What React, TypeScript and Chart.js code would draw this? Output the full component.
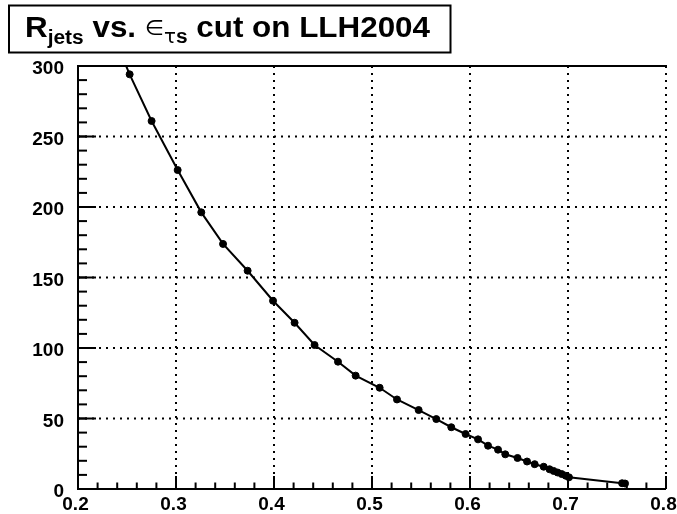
import { useEffect, useRef } from "react";
import { Chart, registerables } from "chart.js";

Chart.register(...registerables);

// epsilon_tau_s (x) values
const effValues = [
  0.231, 0.2527, 0.2751, 0.3017, 0.3258, 0.348, 0.3731, 0.399, 0.421, 0.4414,
  0.4653, 0.4833, 0.5078, 0.5255, 0.5476, 0.5656, 0.5809, 0.5955, 0.6082, 0.6184,
  0.6286, 0.636, 0.6485, 0.6582, 0.666, 0.6752, 0.6812, 0.6853, 0.6894, 0.6936,
  0.6977, 0.701, 0.7552, 0.7582,
];
// R_jets (y) values
const rjetsValues = [
  330, 294.1, 261.0, 226.2, 196.2, 173.8, 154.8, 133.5, 117.9, 102.1,
  90.3, 80.4, 71.8, 63.5, 56.0, 49.6, 43.8, 39.0, 35.2, 30.7,
  27.9, 24.6, 22.0, 19.5, 17.6, 15.8, 14.0, 12.8, 11.7, 10.6,
  9.4, 8.3, 4.1, 3.9,
];

const xMin = 0.2;
const xMax = 0.8;
const xStep = 0.1;
const xMinorStep = 0.02;
const yMin = 0;
const yMax = 300;
const yStep = 50;
const yMinorStep = 10;
const xGridValues = [0.3, 0.4, 0.5, 0.6, 0.7, 0.8];
const yGridValues = [50, 100, 150, 200, 250];
const xMajorTicks = [0.2, 0.3, 0.4, 0.5, 0.6, 0.7, 0.8];
const xTickLabels = ["0.2", "0.3", "0.4", "0.5", "0.6", "0.7", "0.8"];
const yMajorTicks = [0, 50, 100, 150, 200, 250, 300];

const FONT = '"Liberation Sans", Arial, Helvetica, sans-serif';
const SYM = '"DejaVu Sans", sans-serif';

const titleParts = [
  { t: "R", font: `bold 30px ${FONT}`, dy: 0 },
  { t: "jets", font: `bold 20px ${FONT}`, dy: 7 },
  { t: " vs. ", font: `bold 30px ${FONT}`, dy: 0 },
  { t: "\u2208", font: `21px ${SYM}`, dy: -2 },
  { t: "\u03c4", font: `19px ${SYM}`, dy: 6 },
  { t: "s", font: `bold 20px ${FONT}`, dy: 6 },
  { t: " cut on LLH2004", font: `bold 30px ${FONT}`, dy: 0 },
];

const rootFrame = {
  id: "rootFrame",
  beforeDatasetsDraw(chart: any) {
    const { ctx, chartArea: a, scales } = chart;
    const xs = scales.x;
    const ys = scales.y;
    const line = (x1: number, y1: number, x2: number, y2: number) => {
      ctx.beginPath();
      ctx.moveTo(x1, y1);
      ctx.lineTo(x2, y2);
      ctx.stroke();
    };
    ctx.save();
    ctx.strokeStyle = "#000";
    ctx.lineWidth = 2;
    ctx.lineCap = "butt";
    // dotted grid
    ctx.setLineDash([2, 5]);
    for (const v of xGridValues) {
      const px = xs.getPixelForValue(v);
      line(px, a.top, px, a.bottom);
    }
    for (const v of yGridValues) {
      const py = ys.getPixelForValue(v);
      line(a.left, py, a.right, py);
    }
    ctx.setLineDash([]);
    // frame (left, bottom, top)
    line(a.left, a.top - 1, a.left, a.bottom + 1);
    line(a.left - 1, a.bottom, a.right, a.bottom);
    line(a.left - 1, a.top, a.right + 1, a.top);
    // x ticks
    const nxMinor = Math.round((xMax - xMin) / xMinorStep);
    for (let i = 0; i <= nxMinor; i++) {
      const v = xMin + i * xMinorStep;
      const px = xs.getPixelForValue(v);
      line(px, a.bottom, px, a.bottom - 6.5);
    }
    for (const v of xMajorTicks) {
      const px = xs.getPixelForValue(v);
      line(px, a.bottom, px, a.bottom - 13);
    }
    // y ticks
    const nyMinor = Math.round((yMax - yMin) / yMinorStep);
    for (let i = 0; i <= nyMinor; i++) {
      const v = yMin + i * yMinorStep;
      const py = ys.getPixelForValue(v);
      line(a.left, py, a.left + 9, py);
    }
    for (const v of yMajorTicks) {
      const py = ys.getPixelForValue(v);
      line(a.left, py, a.left + 18, py);
    }
    ctx.restore();
  },
  afterDraw(chart: any) {
    const { ctx, scales } = chart;
    ctx.save();
    // x tick labels
    ctx.fillStyle = "#000";
    ctx.font = `bold 19px ${FONT}`;
    ctx.textAlign = "center";
    ctx.textBaseline = "alphabetic";
    xMajorTicks.forEach((v, i) => {
      const px = scales.x.getPixelForValue(v);
      ctx.fillText(xTickLabels[i], px - 2.5, 510);
    });
    // title box
    ctx.fillStyle = "#fff";
    ctx.fillRect(9, 5.5, 441.5, 47);
    ctx.strokeStyle = "#000";
    ctx.lineWidth = 2;
    ctx.strokeRect(9, 5.5, 441.5, 47);
    // title text
    let total = 0;
    for (const p of titleParts) {
      ctx.font = p.font;
      total += ctx.measureText(p.t).width;
    }
    const sx = 405 / total;
    ctx.translate(25, 37);
    ctx.scale(sx, 1);
    ctx.fillStyle = "#000";
    ctx.textBaseline = "alphabetic";
    ctx.textAlign = "left";
    let x = 0;
    for (const p of titleParts) {
      ctx.font = p.font;
      ctx.fillText(p.t, x, p.dy);
      x += ctx.measureText(p.t).width;
    }
    ctx.restore();
  },
};

export default function App() {
  const ref = useRef<HTMLCanvasElement>(null);
  useEffect(() => {
    const canvas = ref.current;
    if (!canvas) return;
    const points = effValues.map((v, i) => ({ x: v, y: rjetsValues[i] }));
    const chart = new Chart(canvas, {
      type: "line",
      data: {
        datasets: [
          {
            data: points,
            borderColor: "#000",
            backgroundColor: "#000",
            borderWidth: 2,
            pointRadius: 3.5,
            pointBorderWidth: 1,
            pointBackgroundColor: "#000",
            pointBorderColor: "#000",
            tension: 0,
            fill: false,
          },
        ],
      },
      options: {
        responsive: false,
        animation: false,
        events: [],
        layout: { padding: { top: 66, right: 11, left: 0, bottom: 0 } },
        plugins: {
          legend: { display: false },
          title: { display: false },
          tooltip: { enabled: false },
        },
        scales: {
          x: {
            type: "linear",
            min: xMin,
            max: xMax,
            grid: { display: false },
            border: { display: false },
            ticks: {
              display: false,
              stepSize: xStep,
            },
            afterFit: (s: any) => {
              s.height = 25;
            },
          },
          y: {
            type: "linear",
            min: yMin,
            max: yMax,
            grid: { display: false },
            border: { display: false },
            ticks: {
              stepSize: yStep,
              color: "#000",
              font: { family: FONT, size: 19, weight: "bold" },
              padding: 6,
              labelOffset: 3,
              autoSkip: false,
              callback: (v: any) => String(Math.round(Number(v))),
            },
            afterFit: (s: any) => {
              s.width = 78;
            },
          },
        },
      },
      plugins: [rootFrame],
    } as any);
    return () => chart.destroy();
  }, []);
  return (
    <div
      style={{
        position: "absolute",
        left: 0,
        top: 0,
        width: 677,
        height: 514,
        background: "#fff",
      }}
    >
      <canvas ref={ref} width={677} height={514} style={{ display: "block" }} />
    </div>
  );
}
